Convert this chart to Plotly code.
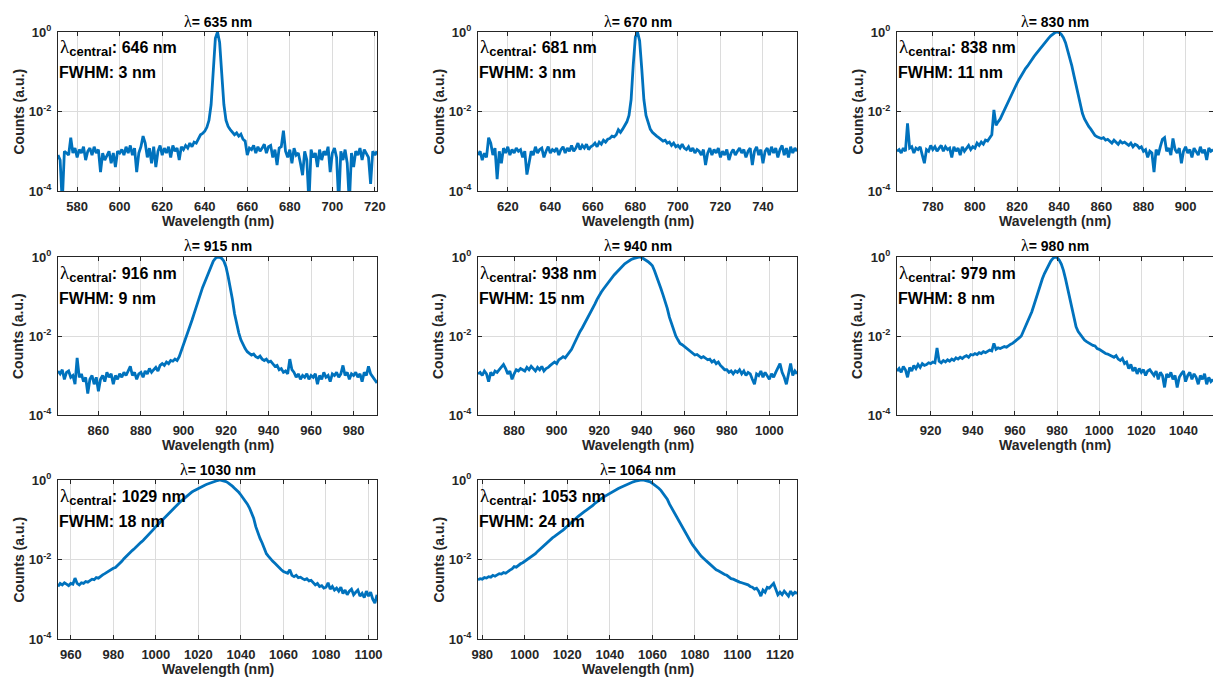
import numpy as np
import plotly.graph_objects as go

# ---------------- data ----------------
laser_nm = [635, 670, 830, 915, 940, 980, 1030, 1064]
central_nm = [646, 681, 838, 916, 938, 979, 1029, 1053]
fwhm_nm = [3, 3, 11, 9, 15, 8, 18, 24]
start_nm = [571, 606, 763, 841, 863, 904, 954, 978]   # first wavelength sample (1 nm step)

counts_635 = [
    8e-4, 6e-4, 5e-5, 1e-3, 9e-4, 8e-4, 2.2e-3, 9e-4, 1.2e-3, 7e-4,
    1.1e-3, 9e-4, 1.3e-3, 6e-4, 1e-3, 1.2e-3, 8e-4, 1.3e-3, 9e-4, 1.1e-3,
    3e-4, 9e-4, 6e-4, 8e-4, 1e-3, 5e-4, 9e-4, 4e-4, 1e-3, 9e-4,
    1.1e-3, 8e-4, 1.3e-3, 9e-4, 1.4e-3, 8e-4, 1.2e-3, 3e-4, 9e-4, 1.3e-3,
    2.4e-3, 1.6e-3, 7e-4, 1.2e-3, 5e-4, 1.3e-3, 4e-4, 1e-3, 1.4e-3, 8e-4,
    1.2e-3, 9e-4, 1.3e-3, 7e-4, 1.4e-3, 1e-3, 1.2e-3, 6e-4, 1.3e-3, 1.1e-3,
    1.4e-3, 1.2e-3, 1.6e-3, 1.3e-3, 1.7e-3, 1.6e-3, 2e-3, 2.6e-3, 2.8e-3, 3.2e-3,
    4e-3, 6e-3, 1.5e-2, 0.12, 0.7, 1.0, 0.55, 0.09, 1.5e-2, 6e-3,
    4.2e-3, 3.5e-3, 3e-3, 2.6e-3, 2.9e-3, 2.4e-3, 2.7e-3, 2e-3, 1.8e-3, 8e-4,
    1.2e-3, 1.1e-3, 1.4e-3, 9e-4, 1.3e-3, 1e-3, 1.2e-3, 1.5e-3, 9e-4, 1.3e-3,
    1.4e-3, 7e-4, 1.1e-3, 4.5e-4, 1.2e-3, 1.3e-3, 3.3e-3, 1e-3, 7e-4, 1.1e-3,
    5e-4, 1.2e-3, 8e-4, 9e-4, 5e-4, 2.5e-4, 1e-3, 6e-4, 5e-5, 1.1e-3,
    7e-4, 9e-4, 4e-4, 1.1e-3, 6e-4, 1e-3, 8e-4, 1.3e-3, 3e-4, 9e-4,
    1.2e-3, 7e-4, 5e-5, 1e-3, 6e-4, 1.1e-3, 5e-4, 5e-5, 9e-4, 4e-4,
    1e-3, 8e-4, 1.2e-3, 6e-4, 1.1e-3, 9e-4, 7e-4, 1.5e-4, 1e-3, 8e-4,
    1e-3,
]
counts_670 = [
    8e-4, 1e-3, 6e-4, 9e-4, 7e-4, 2.2e-3, 1.6e-3, 8e-4, 1.2e-3, 2e-4,
    1e-3, 5e-4, 1.2e-3, 9e-4, 1.3e-3, 8e-4, 1.1e-3, 9e-4, 1.2e-3, 1e-3,
    1.1e-3, 7e-4, 1e-3, 2.6e-4, 5e-4, 1e-3, 8e-4, 1.3e-3, 9e-4, 1.1e-3,
    1.2e-3, 7e-4, 1e-3, 1.3e-3, 9e-4, 1.1e-3, 1e-3, 1.2e-3, 8e-4, 1.1e-3,
    1.3e-3, 9e-4, 1.2e-3, 1e-3, 1.4e-3, 1e-3, 1.2e-3, 1.6e-3, 1.1e-3, 1.4e-3,
    1.2e-3, 1.5e-3, 1.1e-3, 1.3e-3, 1.4e-3, 1.6e-3, 1.3e-3, 1.7e-3, 1.5e-3, 1.9e-3,
    1.7e-3, 2e-3, 2.1e-3, 2.4e-3, 2.3e-3, 2.6e-3, 3.5e-3, 3e-3, 3.6e-3, 4.5e-3,
    5.5e-3, 8e-3, 2e-2, 0.15, 0.75, 1.0, 0.6, 0.12, 2e-2, 8e-3,
    5e-3, 3.6e-3, 3e-3, 2.6e-3, 2.4e-3, 2.2e-3, 2e-3, 1.8e-3, 1.9e-3, 1.6e-3,
    1.7e-3, 1.4e-3, 1.6e-3, 1.3e-3, 1.4e-3, 1.2e-3, 1.5e-3, 1.2e-3, 1.1e-3, 1.3e-3,
    1e-3, 1.2e-3, 9e-4, 1.1e-3, 1e-3, 8e-4, 1.1e-3, 4.5e-4, 9e-4, 1.2e-3,
    8e-4, 1.1e-3, 9e-4, 1.2e-3, 7e-4, 1e-3, 8e-4, 1.1e-3, 6e-4, 9e-4,
    1.1e-3, 8e-4, 1e-3, 1.2e-3, 9e-4, 1.1e-3, 7e-4, 1e-3, 1.2e-3, 4.5e-4,
    1e-3, 1.3e-3, 8e-4, 1.1e-3, 5e-4, 1e-3, 1.2e-3, 8e-4, 1.3e-3, 9e-4,
    1.2e-3, 7e-4, 1.1e-3, 1.4e-3, 8e-4, 1.2e-3, 7e-4, 1.3e-3, 9e-4, 1.2e-3,
    1e-3,
]
counts_830 = [
    1e-3, 1.1e-3, 9e-4, 1.2e-3, 1e-3, 5e-3, 1.2e-3, 1.3e-3, 9e-4, 1.2e-3,
    1.1e-3, 1.3e-3, 8e-4, 5e-4, 1.1e-3, 1e-3, 1.4e-3, 1.1e-3, 1.3e-3, 1e-3,
    1.2e-3, 1.4e-3, 1e-3, 1.3e-3, 1.1e-3, 1.2e-3, 7e-4, 1.3e-3, 1e-3, 1.2e-3,
    8e-4, 1.3e-3, 1e-3, 1.2e-3, 1.4e-3, 1.1e-3, 1.3e-3, 1.2e-3, 1.6e-3, 1.4e-3,
    1.7e-3, 1.5e-3, 1.9e-3, 1.8e-3, 2.2e-3, 2.6e-3, 1.1e-2, 4.5e-3, 5.5e-3, 6.5e-3,
    8.5e-3, 1.1e-2, 1.5e-2, 2e-2, 2.6e-2, 3.4e-2, 4.2e-2, 5.2e-2, 6.5e-2, 8.2e-2,
    0.1, 0.12, 0.14, 0.17, 0.2, 0.24, 0.28, 0.33, 0.38, 0.44,
    0.52, 0.6, 0.7, 0.8, 0.9, 0.97, 1.0, 0.97, 0.87, 0.72,
    0.54, 0.36, 0.23, 0.14, 0.08, 0.045, 0.025, 0.015, 9e-3, 6.5e-3,
    5e-3, 4.2e-3, 3.6e-3, 3e-3, 2.5e-3, 2.3e-3, 2.2e-3, 2.1e-3, 2.2e-3, 1.9e-3,
    2e-3, 1.8e-3, 1.6e-3, 1.9e-3, 1.7e-3, 1.5e-3, 1.8e-3, 1.6e-3, 1.7e-3, 1.5e-3,
    1.4e-3, 1.6e-3, 1.3e-3, 1.5e-3, 1.4e-3, 1.2e-3, 1.3e-3, 1e-3, 1.1e-3, 7e-4,
    1e-3, 9e-4, 3e-4, 1.1e-3, 8e-4, 1.3e-3, 2e-3, 2.2e-3, 1e-3, 1.2e-3,
    8e-4, 2.1e-3, 1.1e-3, 9e-4, 1.2e-3, 5e-4, 1e-3, 1.3e-3, 9e-4, 1.1e-3,
    7e-4, 1.2e-3, 1e-3, 8e-4, 1.3e-3, 9e-4, 1.1e-3, 6e-4, 1.2e-3, 1e-3,
    1.1e-3,
]
counts_915 = [
    1.3e-3, 1.1e-3, 1.4e-3, 8e-4, 1.2e-3, 1.3e-3, 9e-4, 1e-3, 6e-4, 2.8e-3,
    9e-4, 1.1e-3, 7e-4, 9e-4, 3.5e-4, 8e-4, 1e-3, 6e-4, 9e-4, 4e-4,
    8e-4, 1e-3, 7e-4, 1.2e-3, 9e-4, 1.1e-3, 6e-4, 1e-3, 8e-4, 1.1e-3,
    9e-4, 1.2e-3, 1e-3, 1.3e-3, 1.7e-3, 1e-3, 1.2e-3, 8e-4, 1.1e-3, 1.2e-3,
    9e-4, 1.3e-3, 1.1e-3, 1.5e-3, 1.2e-3, 1.4e-3, 1.6e-3, 1.3e-3, 1.8e-3, 2e-3,
    1.8e-3, 2.2e-3, 2e-3, 2.4e-3, 2.3e-3, 2.6e-3, 2.4e-3, 3e-3, 4.2e-3, 6.6e-3,
    9e-3, 1.2e-2, 1.7e-2, 2.5e-2, 3.7e-2, 5.5e-2, 8e-2, 0.12, 0.17, 0.23,
    0.32, 0.45, 0.62, 0.78, 0.92, 1.0, 0.98, 0.92, 0.78, 0.56,
    0.32, 0.18, 0.085, 0.037, 0.02, 0.012, 8e-3, 6e-3, 4.8e-3, 4e-3,
    3.6e-3, 3.3e-3, 3.5e-3, 3e-3, 2.8e-3, 3.1e-3, 2.6e-3, 2.4e-3, 2.6e-3, 2.2e-3,
    2.3e-3, 2e-3, 1.7e-3, 1.8e-3, 1.4e-3, 1.5e-3, 1.2e-3, 1.3e-3, 1.1e-3, 2.6e-3,
    1.4e-3, 1.2e-3, 9e-4, 1.1e-3, 8e-4, 1e-3, 9e-4, 1.1e-3, 8e-4, 1e-3,
    9e-4, 1.1e-3, 6e-4, 1e-3, 8e-4, 1.2e-3, 9e-4, 1e-3, 7e-4, 1.1e-3,
    1e-3, 1.2e-3, 9e-4, 1.1e-3, 1.8e-3, 1e-3, 1.2e-3, 8e-4, 1.1e-3, 1e-3,
    1.2e-3, 9e-4, 1.1e-3, 7e-4, 1.2e-3, 1e-3, 1.7e-3, 1.1e-3, 9e-4, 8e-4,
    6.5e-4,
]
counts_940 = [
    1.1e-3, 1.2e-3, 1e-3, 1.3e-3, 1.1e-3, 7e-4, 1.2e-3, 1e-3, 1.3e-3, 1.2e-3,
    1.4e-3, 1.6e-3, 1.9e-3, 1.5e-3, 1.1e-3, 1.3e-3, 8e-4, 1.1e-3, 1.4e-3, 1.3e-3,
    1.5e-3, 1.4e-3, 1.3e-3, 1.6e-3, 1.4e-3, 1.7e-3, 1.5e-3, 1.3e-3, 1.6e-3, 1.4e-3,
    1.7e-3, 1.3e-3, 1.5e-3, 1.6e-3, 1.8e-3, 2e-3, 2.2e-3, 2e-3, 2.5e-3, 2.7e-3,
    3e-3, 2.8e-3, 3.3e-3, 3.8e-3, 4.6e-3, 6e-3, 8e-3, 1.05e-2, 1.3e-2, 1.6e-2,
    2e-2, 2.5e-2, 3.4e-2, 4.2e-2, 5.2e-2, 6.5e-2, 8.5e-2, 0.108, 0.13, 0.155,
    0.185, 0.22, 0.26, 0.3, 0.35, 0.4, 0.46, 0.54, 0.6, 0.67,
    0.73, 0.8, 0.86, 0.91, 0.95, 0.98, 1.0, 0.97, 0.9, 0.84,
    0.76, 0.68, 0.6, 0.45, 0.33, 0.24, 0.16, 0.11, 0.075, 0.05,
    0.03, 0.02, 0.014, 0.01, 8e-3, 6.5e-3, 6e-3, 5.4e-3, 4.8e-3, 4.5e-3,
    4e-3, 3.6e-3, 3.3e-3, 3.4e-3, 3e-3, 2.8e-3, 3e-3, 2.7e-3, 2.5e-3, 2.6e-3,
    2.2e-3, 2.4e-3, 2e-3, 2.2e-3, 1.8e-3, 1.6e-3, 1.4e-3, 1.4e-3, 1.2e-3, 1.3e-3,
    1.1e-3, 1.3e-3, 1.2e-3, 1.4e-3, 1.1e-3, 1.3e-3, 1e-3, 1.2e-3, 1.1e-3, 8e-4,
    6e-4, 1.1e-3, 1e-3, 1.3e-3, 9e-4, 1.2e-3, 1e-3, 8e-4, 1.1e-3, 9e-4,
    1.2e-3, 1.5e-3, 2e-3, 1.2e-3, 9e-4, 6e-4, 1.1e-3, 2e-3, 1e-3, 1.3e-3,
    1.1e-3,
]
counts_980 = [
    1.3e-3, 1.5e-3, 1.2e-3, 1.7e-3, 1.4e-3, 9e-4, 1.6e-3, 1.3e-3, 1.8e-3, 1.5e-3,
    1.9e-3, 1.6e-3, 2e-3, 1.8e-3, 1.9e-3, 2.1e-3, 2e-3, 2.2e-3, 2.1e-3, 5e-3,
    2.3e-3, 2.1e-3, 2.4e-3, 2.2e-3, 2.5e-3, 2.3e-3, 2.6e-3, 2.4e-3, 2.8e-3, 2.6e-3,
    2.9e-3, 2.7e-3, 3e-3, 3.2e-3, 2.9e-3, 3.4e-3, 3.3e-3, 3.6e-3, 3.4e-3, 3.8e-3,
    3.6e-3, 4e-3, 3.8e-3, 4.2e-3, 4.4e-3, 4.2e-3, 6.5e-3, 4.6e-3, 5e-3, 4.8e-3,
    5.2e-3, 5.4e-3, 5.2e-3, 5.8e-3, 6.2e-3, 6.6e-3, 7.2e-3, 8e-3, 9e-3, 1e-2,
    1.3e-2, 1.7e-2, 2.3e-2, 3e-2, 4.1e-2, 6e-2, 8.9e-2, 0.14, 0.2, 0.28,
    0.38, 0.5, 0.63, 0.79, 0.92, 1.0, 0.96, 0.84, 0.66, 0.46,
    0.28, 0.16, 0.085, 0.045, 0.027, 0.017, 0.013, 0.011, 9e-3, 7.9e-3,
    7.2e-3, 6.6e-3, 6.2e-3, 5.8e-3, 5.6e-3, 4.8e-3, 4.6e-3, 4.2e-3, 4e-3, 3.6e-3,
    3.5e-3, 3.3e-3, 3.1e-3, 2.9e-3, 3.2e-3, 2.6e-3, 2.4e-3, 2.7e-3, 2e-3, 2.2e-3,
    1.5e-3, 1.9e-3, 1.3e-3, 1.6e-3, 1.1e-3, 1.5e-3, 1.2e-3, 1.4e-3, 1e-3, 1.3e-3,
    1.4e-3, 1.2e-3, 1e-3, 1.3e-3, 8e-4, 1.2e-3, 1e-3, 5e-4, 1.1e-3, 9e-4,
    1.2e-3, 8e-4, 1e-3, 5e-4, 9e-4, 1.1e-3, 1.3e-3, 7e-4, 1e-3, 1.2e-3,
    8e-4, 1.1e-3, 9e-4, 6e-4, 1e-3, 8e-4, 1.1e-3, 6e-4, 9e-4, 7e-4,
    8e-4,
]
counts_1030 = [
    2.1e-3, 2.5e-3, 2.3e-3, 2.6e-3, 2.4e-3, 2.2e-3, 2.5e-3, 2.4e-3, 3.4e-3, 2.5e-3,
    2.3e-3, 2.6e-3, 2.5e-3, 2.8e-3, 2.7e-3, 3e-3, 3.2e-3, 3.1e-3, 3.5e-3, 3.4e-3,
    3.8e-3, 4.1e-3, 4.4e-3, 4.8e-3, 5.2e-3, 5.5e-3, 6e-3, 6.3e-3, 7e-3, 7.8e-3,
    9e-3, 1.05e-2, 1.2e-2, 1.35e-2, 1.5e-2, 1.7e-2, 1.9e-2, 2.1e-2, 2.4e-2, 2.7e-2,
    3e-2, 3.4e-2, 3.8e-2, 4.4e-2, 5e-2, 5.8e-2, 6.7e-2, 7.6e-2, 8.6e-2, 9.8e-2,
    0.11, 0.13, 0.145, 0.165, 0.185, 0.21, 0.24, 0.27, 0.3, 0.33,
    0.37, 0.42, 0.46, 0.5, 0.54, 0.58, 0.62, 0.66, 0.7, 0.74,
    0.78, 0.82, 0.86, 0.9, 0.94, 0.97, 1.0, 0.98, 0.95, 0.91,
    0.85, 0.78, 0.7, 0.62, 0.56, 0.49, 0.42, 0.36, 0.31, 0.25,
    0.2, 0.15, 0.11, 0.067, 0.045, 0.034, 0.026, 0.02, 0.014, 0.012,
    1e-2, 9e-3, 8e-3, 7e-3, 6e-3, 5.5e-3, 5e-3, 4.7e-3, 4.5e-3, 5.5e-3,
    4e-3, 3.7e-3, 4e-3, 3.5e-3, 3.6e-3, 3.3e-3, 3.1e-3, 3.3e-3, 2.9e-3, 3e-3,
    2.7e-3, 2.3e-3, 2.5e-3, 2.1e-3, 2.2e-3, 1.9e-3, 2e-3, 2.6e-3, 1.8e-3, 2.1e-3,
    1.7e-3, 1.9e-3, 1.6e-3, 2e-3, 1.4e-3, 1.7e-3, 1.3e-3, 1.6e-3, 1.8e-3, 1.3e-3,
    1.5e-3, 1.7e-3, 1.2e-3, 1.4e-3, 1.1e-3, 1.6e-3, 1.2e-3, 1.5e-3, 1e-3, 8e-4,
    1.3e-3,
]
counts_1064 = [
    3.1e-3, 3.3e-3, 3.2e-3, 3.5e-3, 3.4e-3, 3.7e-3, 3.6e-3, 4e-3, 3.8e-3, 4.2e-3,
    4.4e-3, 4.3e-3, 4.7e-3, 4.5e-3, 5e-3, 5.4e-3, 5.8e-3, 6.6e-3, 6.4e-3, 7.2e-3,
    7.8e-3, 8.3e-3, 9e-3, 1e-2, 1.1e-2, 1.2e-2, 1.3e-2, 1.4e-2, 1.6e-2, 1.8e-2,
    2e-2, 2.3e-2, 2.6e-2, 2.9e-2, 3.2e-2, 3.5e-2, 3.8e-2, 4.1e-2, 4.5e-2, 5e-2,
    5.5e-2, 6.1e-2, 6.7e-2, 7.6e-2, 8.5e-2, 9.5e-2, 0.107, 0.12, 0.13, 0.145,
    0.16, 0.175, 0.19, 0.21, 0.23, 0.26, 0.28, 0.31, 0.34, 0.37,
    0.4, 0.43, 0.46, 0.5, 0.53, 0.57, 0.61, 0.65, 0.69, 0.73,
    0.77, 0.82, 0.86, 0.9, 0.93, 0.96, 0.98, 1.0, 0.99, 0.97,
    0.94, 0.9, 0.82, 0.76, 0.69, 0.62, 0.55, 0.46, 0.4, 0.33,
    0.25, 0.2, 0.16, 0.125, 0.1, 0.08, 0.064, 0.05, 0.042, 0.034,
    0.028, 0.023, 0.019, 0.016, 0.014, 0.012, 0.011, 9.6e-3, 8.6e-3, 7.6e-3,
    6.8e-3, 6e-3, 5.5e-3, 5.2e-3, 4.8e-3, 4.6e-3, 4.2e-3, 4e-3, 3.6e-3, 3.3e-3,
    3.2e-3, 3e-3, 2.9e-3, 2.7e-3, 2.6e-3, 2.5e-3, 2.3e-3, 2.3e-3, 2.1e-3, 2e-3,
    1.8e-3, 1.9e-3, 1.6e-3, 1.2e-3, 1.7e-3, 1.5e-3, 2e-3, 1.9e-3, 2.2e-3, 2.5e-3,
    1.8e-3, 1.3e-3, 1.5e-3, 1.3e-3, 1.6e-3, 1.4e-3, 1.2e-3, 1.6e-3, 1.3e-3, 1.5e-3,
    1.4e-3,
]
all_counts = [counts_635, counts_670, counts_830, counts_915,
              counts_940, counts_980, counts_1030, counts_1064]

ytick_vals = [1e-4, 1e-2, 1]
ytick_text = ["10<sup>-4</sup>", "10<sup>-2</sup>", "10<sup>0</sup>"]

# ---------------- layout helpers ----------------
W, H = 1213, 681
col_px = [(58, 377), (478, 797), (897, 1213)]
row_px = [(32, 191), (257, 415), (480, 639)]

def px_x(p):
    return p / W

def px_y(p):
    return 1 - p / H

FONT = "Arial, 'Liberation Sans', Helvetica, sans-serif"
TXT = "#262626"
BLUE = "#0072BD"
GRID = "#dcdcdc"
LAM = "<span style=\"font-family:'Liberation Serif','Times New Roman',serif;font-weight:normal;font-size:{}px\">λ</span>"

fig = go.Figure()
annotations = []
layout_axes = {}

for i in range(8):
    r, c = divmod(i, 3)
    x0, x1 = col_px[c]
    y0, y1 = row_px[r]
    n = i + 1
    xa = "x" if n == 1 else f"x{n}"
    ya = "y" if n == 1 else f"y{n}"
    xkey = "xaxis" if n == 1 else f"xaxis{n}"
    ykey = "yaxis" if n == 1 else f"yaxis{n}"

    y = all_counts[i]
    x = np.arange(start_nm[i], start_nm[i] + len(y))
    fig.add_trace(go.Scatter(x=x, y=y, mode="lines", xaxis=xa, yaxis=ya,
                             line=dict(color=BLUE, width=2.8), showlegend=False,
                             hoverinfo="x+y"))

    layout_axes[xkey] = dict(
        domain=[px_x(x0), px_x(x1)], anchor=ya, automargin=False,
        range=[start_nm[i], start_nm[i] + 150],
        tick0=0, dtick=20, ticks="inside", ticklen=4, tickwidth=1, tickcolor=TXT,
        showline=True, linecolor=TXT, linewidth=1, mirror="ticks",
        showgrid=True, gridcolor=GRID, gridwidth=1, zeroline=False,
        tickfont=dict(family=FONT, size=13, color=TXT, weight="bold"),
        ticklabelstandoff=3,
    )
    layout_axes[ykey] = dict(
        domain=[px_y(y1), px_y(y0)], anchor=xa, type="log", automargin=False,
        range=[-4, 0], tickmode="array", tickvals=ytick_vals, ticktext=ytick_text,
        ticks="inside", ticklen=4, tickwidth=1, tickcolor=TXT,
        showline=True, linecolor=TXT, linewidth=1, mirror="ticks",
        showgrid=True, gridcolor=GRID, gridwidth=1, zeroline=False,
        tickfont=dict(family=FONT, size=13, color=TXT, weight="bold"),
        ticklabelstandoff=3,
    )

    cx = px_x((x0 + x1) / 2)
    # panel title
    annotations.append(dict(
        text=LAM.format(16) + f"<b>= {laser_nm[i]} nm</b>", x=cx, y=px_y(y0 - 11),
        xref="paper", yref="paper", xanchor="center", yanchor="middle", borderpad=0,
        showarrow=False, font=dict(family=FONT, size=14, color="#000000")))
    # x label
    annotations.append(dict(
        text="<b>Wavelength (nm)</b>", x=cx, y=px_y(y1 + 30),
        xref="paper", yref="paper", xanchor="center", yanchor="middle", borderpad=0,
        showarrow=False, font=dict(family=FONT, size=14, color=TXT)))
    # y label
    annotations.append(dict(
        text="<b>Counts (a.u.)</b>", x=px_x(x0 - 40), y=px_y((y0 + y1) / 2),
        xref="paper", yref="paper", xanchor="center", yanchor="middle", borderpad=0,
        textangle=-90, showarrow=False, font=dict(family=FONT, size=14, color=TXT)))
    # inner text
    annotations.append(dict(
        text=LAM.format(19) + "<sub><span style=\"font-size:13px\"><b>central</b></span></sub>"
             + f"<b>: {central_nm[i]} nm</b>",
        x=px_x(x0 + 1), y=px_y(y0 + 16),
        xref="paper", yref="paper", xanchor="left", yanchor="middle", borderpad=0,
        showarrow=False, font=dict(family=FONT, size=16, color="#000000")))
    annotations.append(dict(
        text=f"<b>FWHM: {fwhm_nm[i]} nm</b>",
        x=px_x(x0), y=px_y(y0 + 41),
        xref="paper", yref="paper", xanchor="left", yanchor="middle", borderpad=0,
        showarrow=False, font=dict(family=FONT, size=16, color="#000000")))

fig.update_layout(
    width=W, height=H,
    margin=dict(l=0, r=0, t=0, b=0, autoexpand=False),
    paper_bgcolor="white", plot_bgcolor="white",
    annotations=annotations,
    **layout_axes,
)

fig.write_html("out.html")
